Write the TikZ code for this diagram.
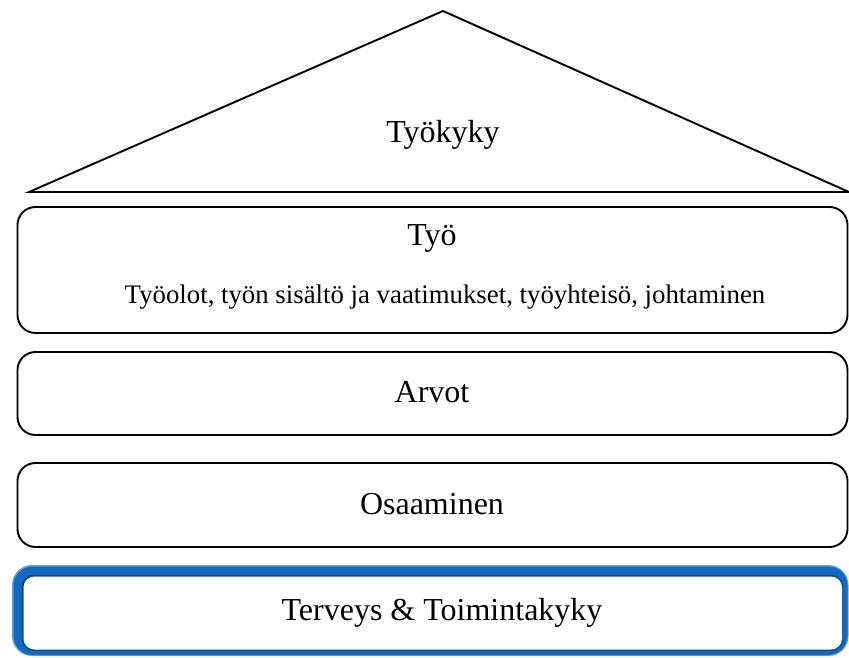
\documentclass[tikz,border=0pt]{standalone}
\usepackage{fontspec}
\setmainfont{Liberation Serif}
\begin{document}
\begin{tikzpicture}[x=1pt,y=1pt,
  layerbox/.style={draw=black, line width=1.9pt, rounded corners=18pt},
  bigtext/.style={font=\fontsize{32}{37}\selectfont, inner sep=0pt},
  smalltext/.style={font=\fontsize{26.8}{31}\selectfont, inner sep=0pt}]
\useasboundingbox (0,0) rectangle (849,657);
% roof
\draw[line width=1.9pt, line join=miter] (29,465) -- (443,646) -- (849,465) -- cycle;
\node[bigtext] (roof) at (443,522) {Työkyky};
% Työ
\draw[layerbox] (17.5,324) rectangle (847.5,450);
\node[bigtext] (tyo) at (432,419) {Työ};
\node[smalltext] (tyosub) at (445,360) {Työolot, työn sisältö ja vaatimukset, työyhteisö, johtaminen};
% Arvot
\draw[layerbox] (17.5,222) rectangle (847.5,305);
\node[bigtext] (arvot) at (432,265) {Arvot};
% Osaaminen
\draw[layerbox] (17.5,110) rectangle (847.5,194);
\node[bigtext] (osaa) at (432,153) {Osaaminen};
% Terveys (blue framed)
\fill[color={rgb,255:red,100;green,160;blue,215}, rounded corners=20pt] (12,1) rectangle (848.5,92);
\fill[color={rgb,255:red,18;green,106;blue,192}, rounded corners=19pt] (13.5,2) rectangle (847.5,90.5);
\fill[color={rgb,255:red,20;green,75;blue,135}, rounded corners=12pt] (21.5,6) rectangle (843,82.5);
\fill[white, rounded corners=11pt] (23.5,7.5) rectangle (842,80.5);
\node[bigtext] (terv) at (442,44) {Terveys \& Toimintakyky};
\end{tikzpicture}
\end{document}
